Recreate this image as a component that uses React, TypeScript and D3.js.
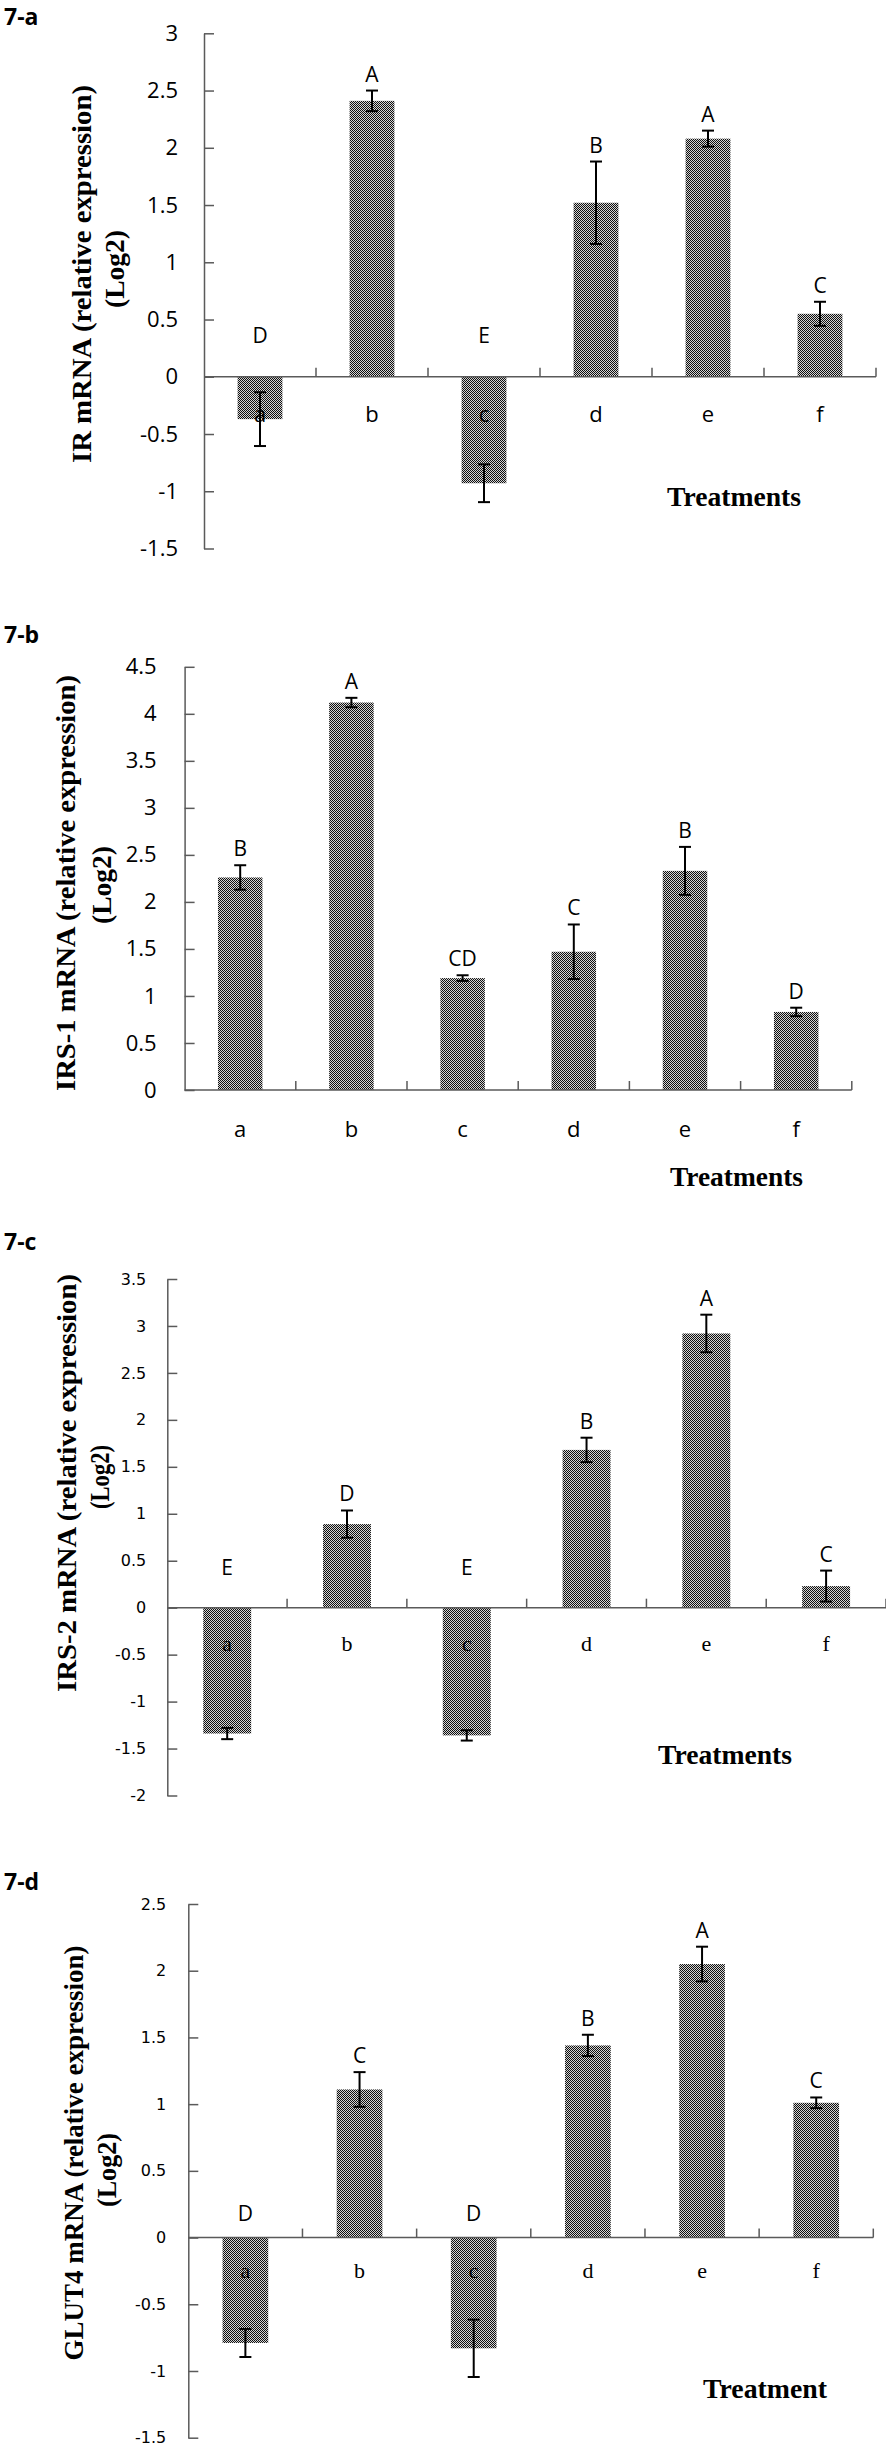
import React, { useEffect, useRef } from 'react';
import * as d3 from 'd3';

// treatments on the x axis (same for every panel)
const treatments = ['a', 'b', 'c', 'd', 'e', 'f'];

// 7-a  IR mRNA
const irMean = [-0.37, 2.41, -0.93, 1.52, 2.08, 0.55];
const irErr = [0.235, 0.09, 0.165, 0.36, 0.07, 0.105];
const irLetters = ['D', 'A', 'E', 'B', 'A', 'C'];

// 7-b  IRS-1 mRNA
const irs1Mean = [2.26, 4.12, 1.19, 1.47, 2.33, 0.83];
const irs1Err = [0.13, 0.05, 0.03, 0.29, 0.255, 0.045];
const irs1Letters = ['B', 'A', 'CD', 'C', 'B', 'D'];

// 7-c  IRS-2 mRNA
const irs2Mean = [-1.34, 0.89, -1.36, 1.68, 2.92, 0.23];
const irs2Err = [0.06, 0.145, 0.055, 0.13, 0.2, 0.165];
const irs2Letters = ['E', 'D', 'E', 'B', 'A', 'C'];

// 7-d  GLUT4 mRNA
const glut4Mean = [-0.79, 1.11, -0.83, 1.44, 2.05, 1.01];
const glut4Err = [0.105, 0.13, 0.215, 0.08, 0.13, 0.04];
const glut4Letters = ['D', 'C', 'D', 'B', 'A', 'C'];

interface Panel {
    tag: string;
    tagY: number;
    title: string;
    titleLen: number;
    titleX: number;
    titleY: number;
    logX: number;
    logY: number;
    logLen: number;
    mean: number[];
    err: number[];
    letters: string[];
    yDomain: [number, number];
    yRange: [number, number];
    x0: number;
    x1: number;
    tickFont: string;
    tickSize: number;
    tickGap: number;
    catFont: string;
    catDy: number;
    axisName: string;
    axisNameX: number;
    axisNameY: number;
    axisNameLen: number;
    negGap: number;
}

const SANS = "'Open Sans', 'Noto Sans', sans-serif";
const SERIF = "'Liberation Serif', 'DejaVu Serif', serif";
const AXIS = '#5a5a5a';

const panels: Panel[] = [
    {
        tag: '7-a', tagY: 25,
        title: 'IR mRNA (relative expression)', titleLen: 378, titleX: 91, titleY: 274,
        logX: 124, logY: 269, logLen: 78,
        mean: irMean, err: irErr, letters: irLetters,
        yDomain: [-1.5, 3], yRange: [548.5, 33.3], x0: 204, x1: 876,
        tickFont: SANS, tickSize: 22, tickGap: 26,
        catFont: SANS, catDy: 45,
        axisName: 'Treatments', axisNameX: 734, axisNameY: 506, axisNameLen: 134,
        negGap: 34,
    },
    {
        tag: '7-b', tagY: 643,
        title: 'IRS-1 mRNA (relative expression)', titleLen: 416, titleX: 75, titleY: 883,
        logX: 111, logY: 885, logLen: 78,
        mean: irs1Mean, err: irs1Err, letters: irs1Letters,
        yDomain: [0, 4.5], yRange: [1090, 666.8], x0: 184.6, x1: 851.8,
        tickFont: SANS, tickSize: 22, tickGap: 28,
        catFont: SANS, catDy: 46.5,
        axisName: 'Treatments', axisNameX: 736.5, axisNameY: 1186, axisNameLen: 133,
        negGap: 34,
    },
    {
        tag: '7-c', tagY: 1250,
        title: 'IRS-2 mRNA (relative expression)', titleLen: 418, titleX: 76, titleY: 1483,
        logX: 109, logY: 1477, logLen: 64,
        mean: irs2Mean, err: irs2Err, letters: irs2Letters,
        yDomain: [-2, 3.5], yRange: [1795.5, 1279], x0: 167.3, x1: 886,
        tickFont: "'DejaVu Sans', sans-serif", tickSize: 16, tickGap: 21,
        catFont: SERIF, catDy: 43,
        axisName: 'Treatments', axisNameX: 725, axisNameY: 1764, axisNameLen: 134,
        negGap: 33,
    },
    {
        tag: '7-d', tagY: 1890,
        title: 'GLUT4 mRNA (relative expression)', titleLen: 415, titleX: 83, titleY: 2153,
        logX: 116, logY: 2170, logLen: 74,
        mean: glut4Mean, err: glut4Err, letters: glut4Letters,
        yDomain: [-1.5, 2.5], yRange: [2437.7, 1904], x0: 188.3, x1: 873.3,
        tickFont: "'DejaVu Sans', sans-serif", tickSize: 16, tickGap: 22,
        catFont: SERIF, catDy: 40,
        axisName: 'Treatment', axisNameX: 765, axisNameY: 2397.5, axisNameLen: 124,
        negGap: 17,
    },
];

function drawPanel(svg: d3.Selection<SVGSVGElement, unknown, null, undefined>, p: Panel) {
    const g = svg.append('g');
    const x = d3.scaleBand<string>()
        .domain(treatments)
        .range([p.x0, p.x1])
        .paddingInner(0.6)
        .paddingOuter(0.3);
    const y = d3.scaleLinear().domain(p.yDomain).range(p.yRange);
    const zero = y(0);
    const step = x.step();

    // bars
    g.selectAll('rect.bar')
        .data(p.mean)
        .enter()
        .append('rect')
        .attr('class', 'bar')
        .attr('x', (_, i) => x(treatments[i]) || 0)
        .attr('width', x.bandwidth())
        .attr('y', d => y(Math.max(0, d)))
        .attr('height', d => Math.abs(y(d) - zero))
        .attr('fill', 'url(#checker)');

    // y axis, ticks pointing inward
    const yTicks = d3.range(p.yDomain[0], p.yDomain[1] + 0.001, 0.5);
    const yAxis = g.append('g')
        .attr('transform', `translate(${p.x0},0)`)
        .call(d3.axisLeft(y)
            .tickValues(yTicks)
            .tickSizeInner(-10)
            .tickSizeOuter(0)
            .tickPadding(p.tickGap)
            .tickFormat(d => String(+(+d).toFixed(1))));
    yAxis.select('.domain').attr('stroke', AXIS).attr('stroke-width', 1.5);
    yAxis.selectAll('.tick line').attr('stroke', AXIS).attr('stroke-width', 1.5);
    yAxis.selectAll('.tick text')
        .attr('font-family', p.tickFont)
        .attr('font-size', p.tickSize)
        .attr('fill', '#000');

    // x axis at zero with category separators
    g.append('line')
        .attr('x1', p.x0).attr('x2', p.x1)
        .attr('y1', zero).attr('y2', zero)
        .attr('stroke', AXIS).attr('stroke-width', 1.5);
    g.selectAll('line.sep')
        .data(d3.range(1, treatments.length + 1))
        .enter()
        .append('line')
        .attr('class', 'sep')
        .attr('x1', i => p.x0 + i * step).attr('x2', i => p.x0 + i * step)
        .attr('y1', zero).attr('y2', zero - 9)
        .attr('stroke', AXIS).attr('stroke-width', 1.5);

    // error bars
    const eb = g.selectAll('g.err')
        .data(p.mean)
        .enter()
        .append('g')
        .attr('class', 'err')
        .attr('transform', (_, i) => `translate(${(x(treatments[i]) || 0) + x.bandwidth() / 2},0)`);
    eb.append('line')
        .attr('y1', (d, i) => y(d + p.err[i]))
        .attr('y2', (d, i) => y(d - p.err[i]))
        .attr('stroke', '#000').attr('stroke-width', 2);
    eb.append('line')
        .attr('x1', -6).attr('x2', 6)
        .attr('y1', (d, i) => y(d + p.err[i])).attr('y2', (d, i) => y(d + p.err[i]))
        .attr('stroke', '#000').attr('stroke-width', 2);
    eb.append('line')
        .attr('x1', -6).attr('x2', 6)
        .attr('y1', (d, i) => y(d - p.err[i])).attr('y2', (d, i) => y(d - p.err[i]))
        .attr('stroke', '#000').attr('stroke-width', 2);

    // significance letters
    g.selectAll('text.letter')
        .data(p.letters)
        .enter()
        .append('text')
        .attr('class', 'letter')
        .attr('x', (_, i) => (x(treatments[i]) || 0) + x.bandwidth() / 2)
        .attr('y', (_, i) => p.mean[i] >= 0 ? y(p.mean[i] + p.err[i]) - 9 : zero - p.negGap)
        .attr('text-anchor', 'middle')
        .attr('font-family', SANS)
        .attr('font-size', 21)
        .text(d => d);

    // treatment names under the zero line
    g.selectAll('text.cat')
        .data(treatments)
        .enter()
        .append('text')
        .attr('class', 'cat')
        .attr('x', d => (x(d) || 0) + x.bandwidth() / 2)
        .attr('y', zero + p.catDy)
        .attr('text-anchor', 'middle')
        .attr('font-family', p.catFont)
        .attr('font-size', 22)
        .text(d => d);

    // x axis name
    g.append('text')
        .attr('x', p.axisNameX)
        .attr('y', p.axisNameY)
        .attr('text-anchor', 'middle')
        .attr('font-family', SERIF)
        .attr('font-weight', 'bold')
        .attr('font-size', 27)
        .attr('textLength', p.axisNameLen)
        .attr('lengthAdjust', 'spacingAndGlyphs')
        .text(p.axisName);

    // y axis title, two lines
    g.append('text')
        .attr('transform', `translate(${p.titleX},${p.titleY}) rotate(-90)`)
        .attr('text-anchor', 'middle')
        .attr('font-family', SERIF)
        .attr('font-weight', 'bold')
        .attr('font-size', 28)
        .attr('textLength', p.titleLen)
        .attr('lengthAdjust', 'spacingAndGlyphs')
        .text(p.title);
    g.append('text')
        .attr('transform', `translate(${p.logX},${p.logY}) rotate(-90)`)
        .attr('text-anchor', 'middle')
        .attr('font-family', SERIF)
        .attr('font-weight', 'bold')
        .attr('font-size', 28)
        .attr('textLength', p.logLen)
        .attr('lengthAdjust', 'spacingAndGlyphs')
        .text('(Log2)');

    // panel tag
    g.append('text')
        .attr('x', 4)
        .attr('y', p.tagY)
        .attr('font-family', SANS)
        .attr('font-weight', 'bold')
        .attr('font-size', 23)
        .text(p.tag);
}

const App: React.FC = () => {
    const ref = useRef<SVGSVGElement>(null);

    useEffect(() => {
        if (!ref.current) return;
        const svg = d3.select(ref.current);
        svg.selectAll('*').remove();

        // fine checker fill like the original bars
        const pat = svg.append('defs').append('pattern')
            .attr('id', 'checker')
            .attr('width', 2).attr('height', 2)
            .attr('patternUnits', 'userSpaceOnUse');
        pat.append('rect').attr('width', 2).attr('height', 2).attr('fill', '#d4d4d4');
        pat.append('rect').attr('width', 1).attr('height', 1).attr('fill', '#101010');
        pat.append('rect').attr('x', 1).attr('y', 1).attr('width', 1).attr('height', 1).attr('fill', '#101010');

        panels.forEach(p => drawPanel(svg, p));
    }, []);

    return (
        <svg ref={ref} width={886} height={2446}
            style={{ position: 'absolute', left: 0, top: 0, background: '#fff' }} />
    );
};

export default App;
